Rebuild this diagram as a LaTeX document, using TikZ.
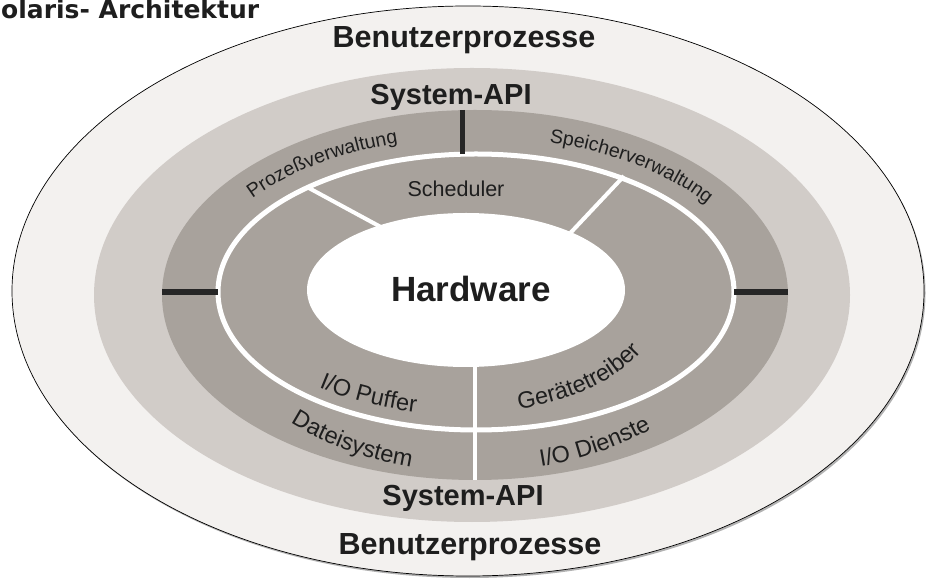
\documentclass[tikz,border=0pt]{standalone}
\usepackage{fontspec}
\setmainfont{Liberation Sans}
\newfontfamily\headfont{DejaVu Sans}
\usetikzlibrary{decorations.text,calc}

\definecolor{shellOuter}{HTML}{F3F1EF}
\definecolor{shellApi}{HTML}{D1CCC8}
\definecolor{shellCore}{HTML}{A8A29C}
\definecolor{inkDark}{HTML}{1E1E1E}
\definecolor{barDark}{HTML}{262626}

\newcommand\ringlabelA{\fontsize{19.5}{21}\selectfont}
\newcommand\ringlabelB{\fontsize{23.5}{25}\selectfont}

\begin{document}
\begin{tikzpicture}[x=1pt, y=1pt,
  bigtitle/.style={font=\bfseries\fontsize{30.5}{34}\selectfont, text=inkDark, anchor=base, inner sep=0pt},
  apititle/.style={font=\bfseries\fontsize{29}{32}\selectfont, text=inkDark, anchor=base, inner sep=0pt},
  divider/.style={draw=white, line width=4pt},
  blackbar/.style={draw=barDark, line width=6pt},
  arclabel/.style 2 args={decorate, decoration={text along path, text align=center,
      text color=inkDark, text={|#1|#2}}},
]
\useasboundingbox (0,0) rectangle (928,578);

\coordinate (core) at (476,286);

% outer shell with a soft drop shadow
\fill[black!30] (469.5,285) ellipse[x radius=456pt, y radius=285pt];
\filldraw[fill=shellOuter, draw=black, line width=0.7pt] (468,287) ellipse[x radius=456pt, y radius=285pt];

% system API layer
\fill[shellApi] (472,283) ellipse[x radius=378pt, y radius=227pt];

% kernel layer
\fill[shellCore] (475,283) ellipse[x radius=313pt, y radius=185pt];

% white separators inside the kernel
\draw[divider] (307,391) -- (390,346);
\draw[divider] (624,402) -- (560,334);
\draw[divider] (475,230) -- (475,98);

% inner ring
\draw[white, line width=5pt] (core) ellipse[x radius=258pt, y radius=138pt];

% hardware core
\fill[white] (466,288) ellipse[x radius=159pt, y radius=77pt];

% black access bars
\draw[blackbar, line width=5pt] (462,468) -- (462,424);
\draw[blackbar] (162,286) -- (218,286);
\draw[blackbar] (734,286) -- (788,286);

% title
\node[font=\headfont\bfseries\fontsize{25}{28}\selectfont, text=inkDark, anchor=base west, inner sep=0pt]
  (title) at (1,559) {olaris- Architektur};

% layer names
\node[bigtitle] (userTop) at (464,530) {Benutzerprozesse};
\node[bigtitle] (userBottom) at (470,24) {Benutzerprozesse};
\node[apititle] (apiTop) at (451,473) {System-API};
\node[apititle] (apiBottom) at (463,73) {System-API};
\node[font=\bfseries\fontsize{35}{38}\selectfont, text=inkDark, anchor=base, inner sep=0pt]
  (hw) at (471,276) {Hardware};
\node[font=\fontsize{21.5}{24}\selectfont, text=inkDark, anchor=base, inner sep=0pt]
  (sched) at (456,381) {Scheduler};

% curved labels, upper half
\path[arclabel={\ringlabelA}{Prozeßverwaltung}]
  ($(core)+(150:280pt and 155pt)$) arc[start angle=150, end angle=101, x radius=280pt, y radius=155pt];
\path[arclabel={\ringlabelA}{Speicherverwaltung}]
  ($(core)+(78:280pt and 155pt)$) arc[start angle=78, end angle=30, x radius=280pt, y radius=155pt];

% curved labels, lower half
\path[arclabel={\ringlabelB}{Dateisystem}]
  ($(core)+(222:270pt and 180pt)$) arc[start angle=222, end angle=260, x radius=270pt, y radius=180pt];
\path[arclabel={\ringlabelB}{I/O Dienste}]
  ($(core)+(280:270pt and 180pt)$) arc[start angle=280, end angle=315, x radius=270pt, y radius=180pt];
\path[arclabel={\ringlabelB}{I/O Puffer}]
  ($(core)+(225:245pt and 124pt)$) arc[start angle=225, end angle=260, x radius=245pt, y radius=124pt];
\path[arclabel={\ringlabelB}{Gerätetreiber}]
  ($(core)+(281:191pt and 120pt)$) arc[start angle=281, end angle=333, x radius=191pt, y radius=120pt];
\end{tikzpicture}
\end{document}
